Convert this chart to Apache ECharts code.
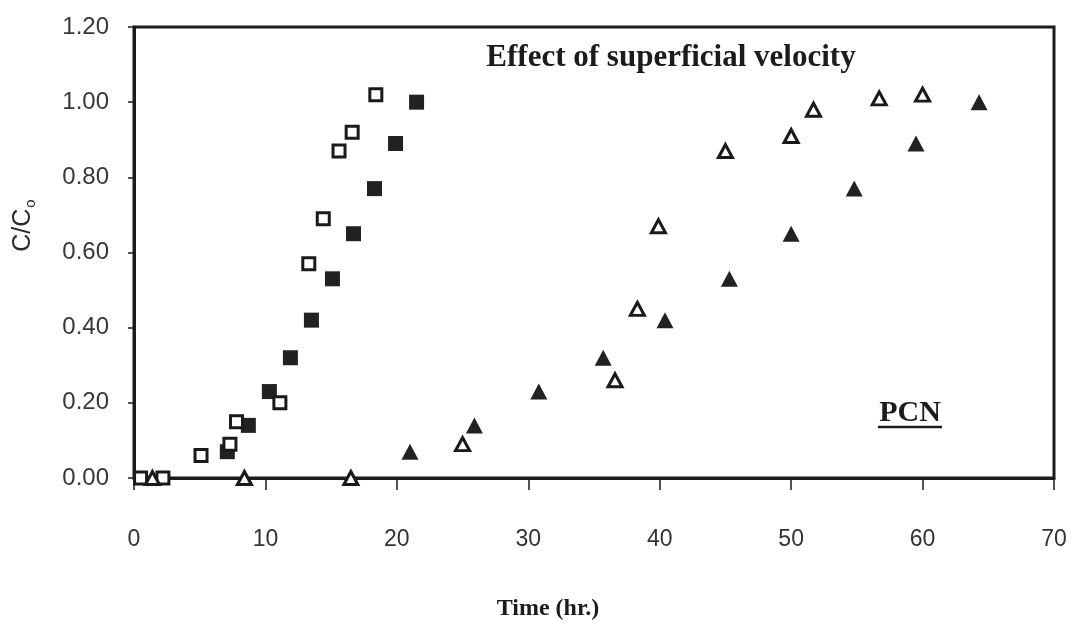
<!DOCTYPE html>
<html>
<head>
<meta charset="utf-8">
<script src="https://cdn.jsdelivr.net/npm/echarts@6/dist/echarts.min.js"></script>
<style>
html,body{margin:0;padding:0;background:#fff;}
#chart{width:1076px;height:626px;}
</style>
</head>
<body>
<div id="chart"></div>
<script>
// ---- data ----
const openSquareX   = [0.5, 2.2, 5.1, 7.3, 7.8, 11.1, 13.3, 14.4, 15.6, 16.6, 18.4];
const openSquareY   = [0.00, 0.00, 0.06, 0.09, 0.15, 0.20, 0.57, 0.69, 0.87, 0.92, 1.02];
const filledSquareX = [7.1, 8.7, 10.3, 11.9, 13.5, 15.1, 16.7, 18.3, 19.9, 21.5];
const filledSquareY = [0.07, 0.14, 0.23, 0.32, 0.42, 0.53, 0.65, 0.77, 0.89, 1.00];
const openTriX      = [1.4, 8.4, 16.5, 25.0, 36.6, 38.3, 39.9, 45.0, 50.0, 51.7, 56.7, 60.0];
const openTriY      = [0.00, 0.00, 0.00, 0.09, 0.26, 0.45, 0.67, 0.87, 0.91, 0.98, 1.01, 1.02];
const filledTriX    = [21.0, 25.9, 30.8, 35.7, 40.4, 45.3, 50.0, 54.8, 59.5, 64.3];
const filledTriY    = [0.07, 0.14, 0.23, 0.32, 0.42, 0.53, 0.65, 0.77, 0.89, 1.00];
const xTicks = [0, 10, 20, 30, 40, 50, 60, 70];
const yTicks = [0.0, 0.2, 0.4, 0.6, 0.8, 1.0, 1.2];
const titleText = 'Effect of superficial velocity';
const noteText = 'PCN';
const xName = 'Time (hr.)';

function zip(xs, ys) { return xs.map((x, i) => [x, ys[i]]); }

const ink = '#1c1c1c';
const chart = echarts.init(document.getElementById('chart'), null, {renderer: 'canvas'});
chart.setOption({
  backgroundColor: '#ffffff',
  animation: false,
  grid: {
    left: 134, right: 22, top: 27, bottom: 148,
    show: true, borderColor: ink, borderWidth: 3, backgroundColor: 'transparent'
  },
  xAxis: {
    type: 'value',
    min: xTicks[0], max: xTicks[xTicks.length - 1], interval: xTicks[1] - xTicks[0],
    splitLine: {show: false},
    axisLine: {show: true, onZero: false, lineStyle: {color: ink, width: 3}},
    axisTick: {show: true, inside: false, length: 12, lineStyle: {color: ink, width: 1.5}},
    axisLabel: {
      margin: 50, color: '#333', fontSize: 23,
      fontFamily: '"Liberation Sans Narrow", "Liberation Sans", Arial, sans-serif'
    },
    name: xName,
    nameLocation: 'middle',
    nameGap: 119,
    nameTextStyle: {
      color: ink, fontSize: 24, fontWeight: 'bold',
      fontFamily: '"Liberation Serif", "Times New Roman", serif',
      padding: [0, 92, 0, 0]
    }
  },
  yAxis: {
    type: 'value',
    min: yTicks[0], max: yTicks[yTicks.length - 1], interval: yTicks[1] - yTicks[0],
    splitLine: {show: false},
    axisLine: {show: true, onZero: false, lineStyle: {color: ink, width: 3}},
    axisTick: {show: true, inside: false, length: 6, lineStyle: {color: ink, width: 1.5}},
    axisLabel: {
      margin: 25, color: '#383838', fontSize: 24,
      fontFamily: '"Liberation Sans", Arial, sans-serif',
      formatter: v => v.toFixed(2)
    },
    name: '{a|C/C}{b|o}',
    nameLocation: 'middle',
    nameRotate: 90,
    nameGap: 96,
    nameTextStyle: {
      padding: [0, 0, 0, 54],
      rich: {
        a: {fontSize: 25, color: '#2a2a2a', fontFamily: '"Liberation Sans", Arial, sans-serif', lineHeight: 30},
        b: {fontSize: 15, color: '#2a2a2a', fontFamily: '"Liberation Sans", Arial, sans-serif', verticalAlign: 'bottom', lineHeight: 16, padding: [14, 0, 0, 1]}
      }
    }
  },
  series: [
    {
      name: 'filled squares', type: 'scatter', data: zip(filledSquareX, filledSquareY),
      symbol: 'rect', symbolSize: 15, itemStyle: {color: '#222', opacity: 1}
    },
    {
      name: 'filled triangles', type: 'scatter', data: zip(filledTriX, filledTriY),
      symbol: 'triangle', symbolSize: [17, 16], itemStyle: {color: '#222', opacity: 1}
    },
    {
      name: 'open squares', type: 'scatter', data: zip(openSquareX, openSquareY),
      symbol: 'rect', symbolSize: 12,
      itemStyle: {color: '#fff', borderColor: '#1a1a1a', borderWidth: 3, opacity: 1}
    },
    {
      name: 'open triangles', type: 'scatter', data: zip(openTriX, openTriY),
      symbol: 'triangle', symbolSize: [14, 13],
      itemStyle: {color: '#fff', borderColor: '#1a1a1a', borderWidth: 3, opacity: 1}
    }
  ],
  graphic: [
    {
      type: 'text', x: 671, y: 58, z: 10,
      style: {
        text: titleText, align: 'center', verticalAlign: 'middle',
        fill: ink, fontSize: 31, fontWeight: 'bold',
        fontFamily: '"Liberation Serif", "Times New Roman", serif'
      }
    },
    {
      type: 'text', x: 910, y: 413, z: 10,
      style: {
        text: noteText, align: 'center', verticalAlign: 'middle',
        fill: ink, fontSize: 30, fontWeight: 'bold',
        fontFamily: '"Liberation Serif", "Times New Roman", serif'
      }
    },
    {
      type: 'line', z: 10,
      shape: {x1: 878, y1: 427, x2: 942, y2: 427},
      style: {stroke: ink, lineWidth: 2.5}
    }
  ]
});
</script>
</body>
</html>
